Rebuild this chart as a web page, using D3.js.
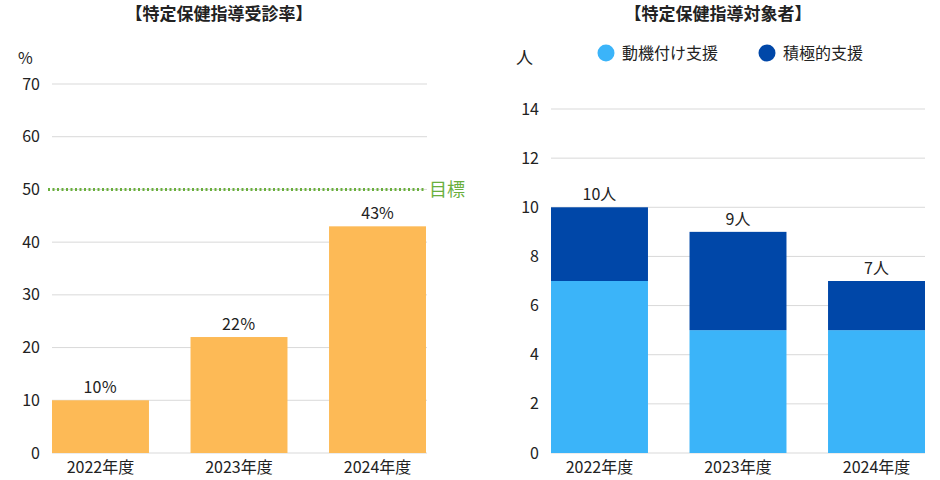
<!DOCTYPE html>
<html>
<head>
<meta charset="utf-8">
<script src="https://cdn.jsdelivr.net/npm/d3@7"></script>
<style>
  body { margin: 0; background: #fff; }
  svg, svg text { font-family: "Noto Sans CJK JP", "Noto Sans", sans-serif; }
</style>
</head>
<body>
<svg width="940" height="480"></svg>
<script>
var years = ['2022年度', '2023年度', '2024年度'];
var rateValues = [10, 22, 43];
var rateLabels = ['10％', '22％', '43%'];
var rateTicks = [0, 10, 20, 30, 40, 50, 60, 70];
var goalValue = 50;

var doukiValues = [7, 5, 5];   // 動機付け支援
var sekkyokuValues = [3, 4, 2]; // 積極的支援
var totalLabels = ['10人', '9人', '7人'];
var countTicks = [0, 2, 4, 6, 8, 10, 12, 14];
var seriesNames = ['動機付け支援', '積極的支援'];

var svg = d3.select('svg');
var gridColor = '#d9d9d9';
var font = '"Noto Sans CJK JP", "Noto Sans", sans-serif';

// left chart : 受診率
var x1 = d3.scaleBand().domain(years).range([52, 426]).paddingInner(0.3).paddingOuter(0);
var y1 = d3.scaleLinear().domain([0, 70]).range([453, 84]);

svg.append('text').attr('x', 219).attr('y', 20).attr('text-anchor', 'middle')
  .attr('font-size', 17).attr('font-weight', 'bold').attr('fill', '#222')
  .text('【特定保健指導受診率】');

svg.append('g').selectAll('line').data(rateTicks).enter().append('line')
  .attr('x1', 52).attr('x2', 427)
  .attr('y1', function(d){ return y1(d); }).attr('y2', function(d){ return y1(d); })
  .attr('stroke', gridColor).attr('stroke-width', 1);

var yAxis1 = svg.append('g').attr('transform', 'translate(40,0)')
  .call(d3.axisLeft(y1).tickValues(rateTicks).tickSize(0).tickPadding(0))
  .attr('font-family', font).attr('font-size', 16);
yAxis1.select('.domain').remove();
yAxis1.selectAll('text').attr('fill', '#222');

svg.append('text').attr('x', 18).attr('y', 64).attr('font-size', 16).attr('fill', '#222').text('%');

svg.append('g').selectAll('rect').data(rateValues).enter().append('rect')
  .attr('x', function(d, i){ return x1(years[i]); })
  .attr('y', function(d){ return y1(d); })
  .attr('width', x1.bandwidth())
  .attr('height', function(d){ return y1(0) - y1(d); })
  .attr('fill', '#FDBA56');

svg.append('g').selectAll('text').data(rateValues).enter().append('text')
  .attr('x', function(d, i){ return x1(years[i]) + x1.bandwidth() / 2; })
  .attr('y', function(d){ return y1(d) - 7; })
  .attr('text-anchor', 'middle').attr('font-size', 16).attr('fill', '#222')
  .text(function(d, i){ return rateLabels[i]; });

svg.append('line').attr('x1', 48).attr('x2', 425)
  .attr('y1', y1(goalValue)).attr('y2', y1(goalValue))
  .attr('stroke', '#6AAF3D').attr('stroke-width', 3).attr('stroke-dasharray', '2,2.5');
svg.append('text').attr('x', 429).attr('y', y1(goalValue) + 7)
  .attr('font-size', 18).attr('fill', '#6AAF3D').text('目標');

var xAxis1 = svg.append('g').attr('transform', 'translate(0,453)')
  .call(d3.axisBottom(x1).tickSize(0).tickPadding(9))
  .attr('font-family', font).attr('font-size', 16);
xAxis1.select('.domain').remove();
xAxis1.selectAll('text').attr('fill', '#222');

// right chart : 対象者
var x2 = d3.scaleBand().domain(years).range([551, 925]).paddingInner(0.3).paddingOuter(0);
var y2 = d3.scaleLinear().domain([0, 14]).range([453, 109]);
var color = d3.scaleOrdinal().domain(seriesNames).range(['#3BB4F9', '#0047A8']);

svg.append('text').attr('x', 718).attr('y', 20).attr('text-anchor', 'middle')
  .attr('font-size', 17).attr('font-weight', 'bold').attr('fill', '#222')
  .text('【特定保健指導対象者】');

svg.append('g').selectAll('line').data(countTicks).enter().append('line')
  .attr('x1', 551).attr('x2', 925)
  .attr('y1', function(d){ return y2(d); }).attr('y2', function(d){ return y2(d); })
  .attr('stroke', gridColor).attr('stroke-width', 1);

var yAxis2 = svg.append('g').attr('transform', 'translate(539,0)')
  .call(d3.axisLeft(y2).tickValues(countTicks).tickSize(0).tickPadding(0))
  .attr('font-family', font).attr('font-size', 16);
yAxis2.select('.domain').remove();
yAxis2.selectAll('text').attr('fill', '#222');

svg.append('text').attr('x', 516).attr('y', 64).attr('font-size', 17).attr('fill', '#222').text('人');

var rows = years.map(function(y, i){
  return { year: y, '動機付け支援': doukiValues[i], '積極的支援': sekkyokuValues[i] };
});
var stacked = d3.stack().keys(seriesNames)(rows);

svg.append('g').selectAll('g').data(stacked).enter().append('g')
  .attr('fill', function(d){ return color(d.key); })
  .selectAll('rect').data(function(d){ return d; }).enter().append('rect')
  .attr('x', function(d){ return x2(d.data.year); })
  .attr('y', function(d){ return y2(d[1]); })
  .attr('width', x2.bandwidth())
  .attr('height', function(d){ return y2(d[0]) - y2(d[1]); });

svg.append('g').selectAll('text').data(rows).enter().append('text')
  .attr('x', function(d){ return x2(d.year) + x2.bandwidth() / 2; })
  .attr('y', function(d){ return y2(d['動機付け支援'] + d['積極的支援']) - 7; })
  .attr('text-anchor', 'middle').attr('font-size', 16).attr('fill', '#222')
  .text(function(d, i){ return totalLabels[i]; });

var xAxis2 = svg.append('g').attr('transform', 'translate(0,453)')
  .call(d3.axisBottom(x2).tickSize(0).tickPadding(9))
  .attr('font-family', font).attr('font-size', 16);
xAxis2.select('.domain').remove();
xAxis2.selectAll('text').attr('fill', '#222');

// legend
var legendX = [606, 767];
var legend = svg.append('g').selectAll('g').data(seriesNames).enter().append('g')
  .attr('transform', function(d, i){ return 'translate(' + legendX[i] + ',53)'; });
legend.append('circle').attr('r', 8.5).attr('fill', function(d){ return color(d); });
legend.append('text').attr('x', 16).attr('y', 6).attr('font-size', 16).attr('fill', '#222')
  .text(function(d){ return d; });
</script>
</body>
</html>
